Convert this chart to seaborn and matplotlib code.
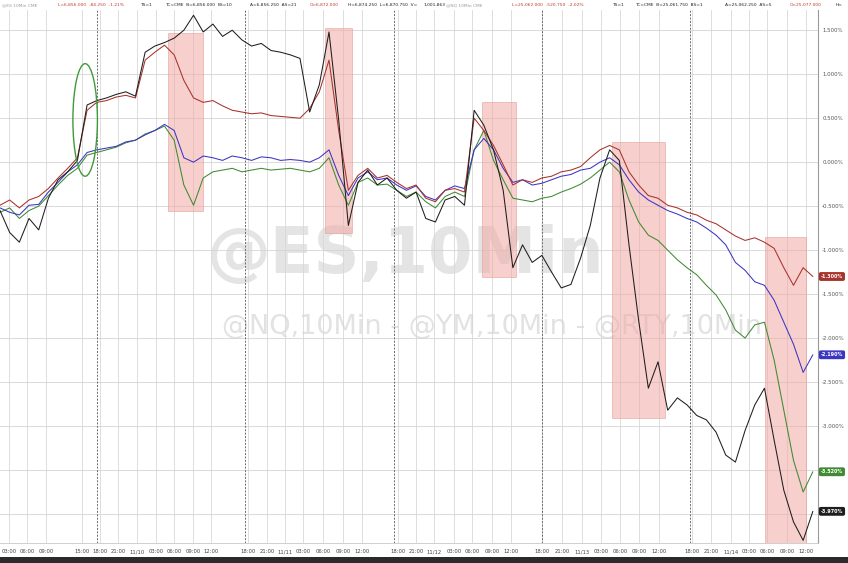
import numpy as np
import pandas as pd
import matplotlib
matplotlib.use("Agg")
import matplotlib.pyplot as plt
import seaborn as sns
from matplotlib.patches import Rectangle, Ellipse

# ---------------- data (percent change, sampled every 1.5 trading hours) ----------------
STEP_HOURS = 1.5

black_pct = [-0.55, -0.80, -0.91, -0.64, -0.77, -0.41, -0.20, -0.11, 0.02, 0.65,
             0.70, 0.73, 0.77, 0.80, 0.75, 1.25, 1.32, 1.36, 1.41, 1.50,
             1.67, 1.48, 1.57, 1.43, 1.50, 1.39, 1.32, 1.35, 1.27, 1.25,
             1.22, 1.18, 0.57, 0.88, 1.48, 0.48, -0.72, -0.23, -0.09, -0.26,
             -0.18, -0.32, -0.41, -0.34, -0.64, -0.68, -0.43, -0.39, -0.49, 0.59,
             0.42, 0.14, -0.32, -1.20, -0.94, -1.14, -1.06, -1.25, -1.43, -1.39,
             -1.09, -0.72, -0.18, 0.14, 0.02, -0.94, -1.80, -2.57, -2.27, -2.82,
             -2.68, -2.76, -2.88, -2.93, -3.07, -3.33, -3.41, -3.05, -2.76, -2.57,
             -3.16, -3.73, -4.09, -4.30, -3.97]

red_pct = [-0.49, -0.43, -0.52, -0.43, -0.39, -0.30, -0.18, -0.07, 0.05, 0.59,
           0.68, 0.70, 0.74, 0.76, 0.73, 1.16, 1.25, 1.33, 1.22, 0.93,
           0.73, 0.68, 0.70, 0.64, 0.59, 0.57, 0.55, 0.56, 0.53, 0.52,
           0.51, 0.50, 0.61, 0.80, 1.16, 0.36, -0.32, -0.15, -0.07, -0.18,
           -0.15, -0.23, -0.30, -0.26, -0.41, -0.45, -0.32, -0.30, -0.34, 0.50,
           0.36, 0.19, -0.03, -0.26, -0.20, -0.23, -0.18, -0.16, -0.11, -0.09,
           -0.05, 0.05, 0.14, 0.19, 0.14, -0.11, -0.26, -0.38, -0.41, -0.49,
           -0.52, -0.57, -0.60, -0.66, -0.70, -0.77, -0.84, -0.89, -0.86, -0.91,
           -0.98, -1.20, -1.40, -1.20, -1.30]

blue_pct = [-0.52, -0.57, -0.60, -0.49, -0.48, -0.34, -0.23, -0.11, -0.03, 0.11,
            0.14, 0.16, 0.18, 0.23, 0.25, 0.31, 0.36, 0.43, 0.36, 0.05,
            0.00, 0.07, 0.05, 0.02, 0.07, 0.05, 0.02, 0.06, 0.05, 0.02,
            0.03, 0.02, 0.00, 0.05, 0.14, -0.15, -0.38, -0.18, -0.11, -0.20,
            -0.18, -0.26, -0.32, -0.27, -0.39, -0.43, -0.32, -0.27, -0.30, 0.14,
            0.27, 0.14, -0.07, -0.23, -0.20, -0.26, -0.24, -0.20, -0.16, -0.14,
            -0.09, -0.07, 0.00, 0.05, -0.03, -0.20, -0.34, -0.43, -0.49, -0.55,
            -0.59, -0.64, -0.68, -0.75, -0.83, -0.94, -1.14, -1.23, -1.36, -1.40,
            -1.57, -1.82, -2.07, -2.39, -2.19]

green_pct = [-0.57, -0.52, -0.64, -0.55, -0.50, -0.38, -0.26, -0.15, -0.07, 0.08,
             0.11, 0.14, 0.17, 0.22, 0.25, 0.32, 0.36, 0.41, 0.25, -0.26,
             -0.49, -0.18, -0.11, -0.09, -0.07, -0.11, -0.09, -0.07, -0.09, -0.08,
             -0.07, -0.09, -0.11, -0.07, 0.05, -0.26, -0.49, -0.23, -0.18, -0.26,
             -0.25, -0.32, -0.39, -0.34, -0.45, -0.52, -0.39, -0.34, -0.39, 0.14,
             0.36, 0.02, -0.20, -0.41, -0.43, -0.45, -0.41, -0.39, -0.34, -0.30,
             -0.25, -0.18, -0.09, 0.00, -0.11, -0.43, -0.68, -0.83, -0.89, -1.00,
             -1.11, -1.20, -1.28, -1.40, -1.51, -1.68, -1.91, -2.00, -1.85, -1.82,
             -2.25, -2.82, -3.39, -3.75, -3.52]

series_names = ["@RTY", "@YM", "@ES", "@NQ"]
series_colors = ["#1e1e1e", "#a8322c", "#3b35c4", "#3f8a32"]

tick_hours = [1.4, 4.2, 7.2, 12.7, 15.5, 18.3, 21.2, 24.2, 27.0, 29.9, 32.7,
              38.4, 41.4, 44.2, 47.0, 50.1, 53.2, 56.1,
              61.7, 64.5, 67.3, 70.4, 73.2, 76.3, 79.2,
              84.0, 87.1, 90.2, 93.2, 96.1, 99.1, 102.2,
              107.3, 110.2, 113.3, 116.1, 118.9, 122.0, 125.0]
tick_labels = ["03:00", "06:00", "09:00", "15:00", "18:00", "21:00", "11/10", "03:00", "06:00", "09:00", "12:00",
               "18:00", "21:00", "11/11", "03:00", "06:00", "09:00", "12:00",
               "18:00", "21:00", "11/12", "03:00", "06:00", "09:00", "12:00",
               "18:00", "21:00", "11/13", "03:00", "06:00", "09:00", "12:00",
               "18:00", "21:00", "11/14", "03:00", "06:00", "09:00", "12:00"]
session_starts = [15.0, 38.0, 61.0, 84.0, 107.0]

# highlighted windows: (start hour, end hour, top %, bottom %)
highlight_boxes = [(26.0, 31.5, 1.47, -0.55),
                   (50.4, 54.6, 1.53, -0.80),
                   (74.7, 80.0, 0.68, -1.31),
                   (94.9, 103.1, 0.23, -2.91),
                   (118.6, 125.0, -0.85, -4.40)]

# ---------------- build frame ----------------
n = len(black_pct)
hours = np.arange(n) * STEP_HOURS
all_vals = [black_pct, red_pct, blue_pct, green_pct]
frames = []
for name, vals in zip(series_names, all_vals):
    frames.append(pd.DataFrame({"hours": hours, "pct": vals, "series": name}))
df = pd.concat(frames, ignore_index=True)
palette = dict(zip(series_names, series_colors))

sns.set_theme(style="white")
plt.rcParams["font.family"] = ["DejaVu Sans"]

fig = plt.figure(figsize=(8.48, 5.63), dpi=100)
fig.patch.set_facecolor("white")
ax = fig.add_axes([0.0, 20 / 563, 818 / 848, 533 / 563])
ax.set_facecolor("white")

YMIN, YMAX = -4.33, 1.73
ax.set_xlim(0, 126.8)
ax.set_ylim(YMIN, YMAX)

# y ticks on the right; labels hidden where a last-value badge sits on top
last_vals = [v[-1] for v in all_vals]
yt = np.arange(-4.0, 1.51, 0.5)
ax.set_yticks(yt)
ax.set_yticklabels(["" if any(abs(t - lv) < 0.09 for lv in last_vals) else f"{t:.3f}%" for t in yt])
ax.yaxis.tick_right()
ax.tick_params(axis="y", length=0, labelsize=3.9, colors="#555555", pad=3)
ax.set_xticks(tick_hours)
ax.set_xticklabels(tick_labels)
ax.tick_params(axis="x", length=3, width=0.5, color="#999999", labelsize=3.8,
               colors="#444444", pad=1.5)
ax.grid(axis="y", color="#d4d4d4", lw=0.6)
ax.grid(axis="x", color="#d8d8d8", lw=0.6)
ax.set_axisbelow(True)
for s in session_starts:
    ax.axvline(s, color="#6a6a6a", lw=0.7, ls=(0, (2, 1.5)), zorder=1)

for sp in ["left", "top"]:
    ax.spines[sp].set_visible(False)
ax.spines["right"].set_color("#9a9a9a")
ax.spines["right"].set_linewidth(0.8)
ax.spines["bottom"].set_color("#c8c8c8")
ax.spines["bottom"].set_linewidth(0.6)

# watermark
ax.text(0.478, 0.547, "@ES,10Min", transform=fig.transFigure, fontsize=46,
        fontweight="bold", color="#cfcfcf", alpha=0.55, ha="center", va="center", zorder=0.5)
ax.text(0.580, 0.419, "@NQ,10Min - @YM,10Min - @RTY,10Min", transform=fig.transFigure,
        fontsize=19.5, color="#cfcfcf", alpha=0.6, ha="center", va="center", zorder=0.5)

# highlight boxes
for x0, x1, top, bot in highlight_boxes:
    ax.add_patch(Rectangle((x0, bot), x1 - x0, top - bot, facecolor="#f2a9a3",
                           edgecolor="#e58f89", lw=0.6, alpha=0.55, zorder=1.5))

# lines
hue_order = ["@NQ", "@ES", "@YM", "@RTY"]
sns.lineplot(data=df, x="hours", y="pct", hue="series", hue_order=hue_order,
             palette=palette, linewidth=0.75, legend=False, estimator=None,
             sort=False, ax=ax, zorder=3)
ax.set_xlabel("")
ax.set_ylabel("")

# green ellipse annotation
ax.add_patch(Ellipse((13.2, 0.48), 3.8, 1.28, fill=False, edgecolor="#3f9a3a", lw=1.0, zorder=4))

# last-value badges
for name, vals in zip(series_names, all_vals):
    col = palette[name]
    v = vals[-1]
    ax.annotate(f"{v:.3f}%", xy=(1.0, v), xycoords=("axes fraction", "data"),
                xytext=(2.0, 0), textcoords="offset points", va="center", ha="left",
                fontsize=3.5, color="white", fontweight="bold", annotation_clip=False,
                bbox=dict(boxstyle="round,pad=0.25", fc=col, ec=col), zorder=6)

# header strip
hy = 1 - 5 / 563
header = [(2, "@ES 10Min CME", "#9a9a9a"),
          (58, "L=6,856.000  -84.250  -1.21%", "#c0392b"),
          (140, "TS=1", "#222222"),
          (165, "TC=CME  B=6,856.000", "#222222"),
          (218, "BS=10", "#222222"),
          (250, "A=6,856.250  AS=21", "#222222"),
          (310, "O=6,872.000", "#c0392b"),
          (348, "H=6,874.250  L=6,870.750  V=", "#222222"),
          (424, "1,001,863", "#222222"),
          (446, "@NQ 10Min CME", "#9a9a9a"),
          (512, "L=25,062.000  -520.750  -2.02%", "#c0392b"),
          (612, "TS=1", "#222222"),
          (635, "TC=CME  B=25,061.750  BS=1", "#222222"),
          (725, "A=25,062.250  AS=5", "#222222"),
          (790, "O=25,077.000", "#c0392b"),
          (836, "H=", "#222222")]
for px, txt, col in header:
    fig.text(px / 848, hy, txt, fontsize=3.2, color=col, ha="left", va="center")

# bottom dark strip
fig.patches.append(Rectangle((0, 0), 1, 6 / 563, transform=fig.transFigure,
                             facecolor="#2a2a2a", edgecolor="none"))

fig.savefig("out.png", dpi=100, facecolor="white")
